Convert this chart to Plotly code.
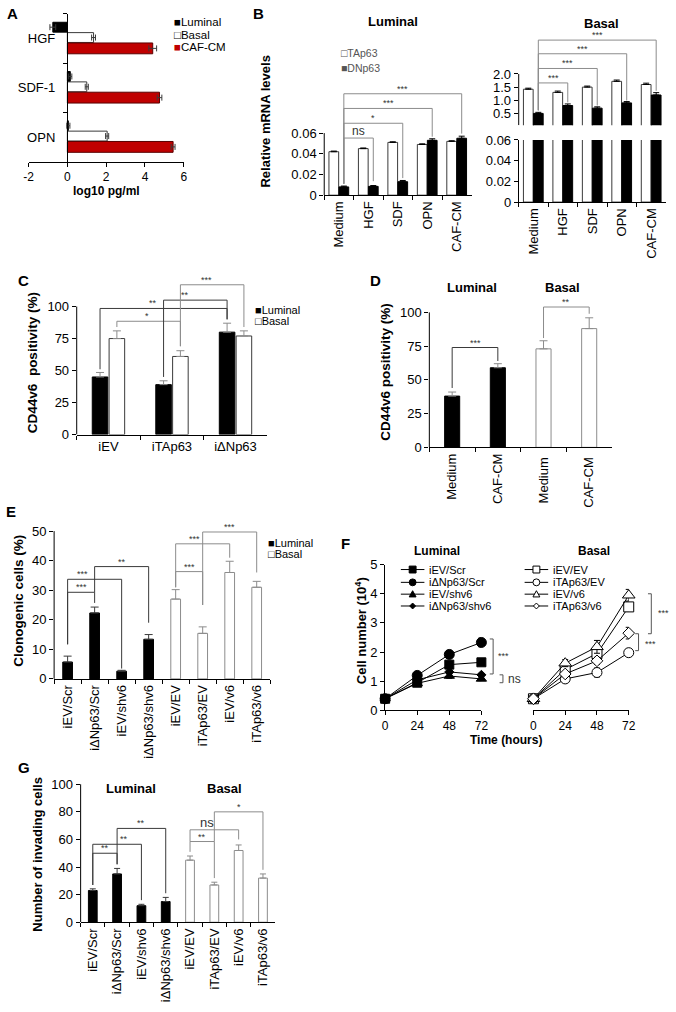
import plotly.graph_objects as go

W, H = 676, 1012
FONT = "Liberation Sans, Arial, Helvetica, sans-serif"
RED = "#c00000"
GREY = "#8c8c8c"
DARK = "#3a3a3a"

# ---------------- Panel A ----------------
A_factors = ["HGF", "SDF-1", "OPN"]
A_luminal = [-0.75, 0.15, 0.05]
A_luminal_err = [0.15, 0.08, 0.08]
A_basal = [1.35, 1.0, 2.05]
A_basal_err = [0.1, 0.08, 0.08]
A_cafcm = [4.4, 4.75, 5.45]
A_cafcm_err = [0.2, 0.12, 0.1]
A_xticks = [-2, 0, 2, 4, 6]
A_xticktext = ["-2", "0", "2", "4", "6"]

# ---------------- Panel B ----------------
B_treatments = ["Medium", "HGF", "SDF", "OPN", "CAF-CM"]
B_lum_TAp63 = [0.042, 0.045, 0.051, 0.049, 0.052]
B_lum_TAp63_err = [0.0006, 0.0006, 0.0006, 0.0006, 0.0006]
B_lum_DNp63 = [0.008, 0.0085, 0.013, 0.053, 0.055]
B_lum_DNp63_err = [0.0008, 0.0008, 0.0012, 0.0015, 0.002]
B_bas_TAp63 = [1.42, 1.30, 1.50, 1.72, 1.60]
B_bas_TAp63_err = [0.04, 0.05, 0.04, 0.05, 0.05]
B_bas_DNp63 = [0.50, 0.80, 0.70, 0.90, 1.20]
B_bas_DNp63_err = [0.04, 0.06, 0.05, 0.05, 0.09]
B_low_ticks = [0, 0.02, 0.04, 0.06]
B_low_ticktext = ["0", "0.02", "0.04", "0.06"]
B_up_ticks = [0.5, 1.0, 1.5, 2.0]
B_up_ticktext = ["0.5", "1.0", "1.5", "2.0"]

# ---------------- Panel C ----------------
C_constructs = ["iEV", "iTAp63", "iΔNp63"]
C_luminal = [45, 39, 80]
C_luminal_err = [3.5, 3, 7]
C_basal = [75, 61, 77]
C_basal_err = [6, 4.5, 4]
C_ticks = [0, 25, 50, 75, 100]

# ---------------- Panel D ----------------
D_luminal_groups = ["Medium", "CAF-CM"]
D_basal_groups = ["Medium ", "CAF-CM "]
D_luminal = [38, 59]
D_luminal_err = [3, 3]
D_basal = [73, 88]
D_basal_err = [6, 8]
D_ticks = [0, 25, 50, 75, 100]

# ---------------- Panel E ----------------
E_luminal_groups = ["iEV/Scr", "iΔNp63/Scr", "iEV/shv6", "iΔNp63/shv6"]
E_basal_groups = ["iEV/EV", "iTAp63/EV", "iEV/v6", "iTAp63/v6"]
E_luminal = [5.7, 22.3, 2.6, 13.4]
E_luminal_err = [2.0, 2.0, 0.3, 1.6]
E_basal = [27.0, 15.4, 36.0, 31.0]
E_basal_err = [3.2, 2.2, 3.8, 2.0]
E_ticks = [0, 10, 20, 30, 40, 50]

# ---------------- Panel F ----------------
F_hours = [0, 24, 48, 72]
F_lum_names = ["iEV/Scr", "iΔNp63/Scr", "iEV/shv6", "iΔNp63/shv6"]
F_lum_iEV_Scr = [0.4, 0.95, 1.57, 1.65]
F_lum_iEV_Scr_err = [0.03, 0.05, 0.10, 0.05]
F_lum_iDNp63_Scr = [0.4, 1.20, 1.92, 2.33]
F_lum_iDNp63_Scr_err = [0.03, 0.05, 0.12, 0.15]
F_lum_iEV_shv6 = [0.4, 0.93, 1.18, 1.08]
F_lum_iEV_shv6_err = [0.03, 0.05, 0.08, 0.06]
F_lum_iDNp63_shv6 = [0.4, 1.05, 1.32, 1.22]
F_lum_iDNp63_shv6_err = [0.03, 0.05, 0.06, 0.05]
F_bas_names = ["iEV/EV", "iTAp63/EV", "iEV/v6", "iTAp63/v6"]
F_bas_iEV_EV = [0.4, 1.40, 1.95, 3.55]
F_bas_iEV_EV_err = [0.03, 0.10, 0.20, 0.15]
F_bas_iTAp63_EV = [0.4, 1.08, 1.30, 1.98]
F_bas_iTAp63_EV_err = [0.03, 0.10, 0.15, 0.12]
F_bas_iEV_v6 = [0.4, 1.62, 2.18, 3.95]
F_bas_iEV_v6_err = [0.03, 0.12, 0.22, 0.20]
F_bas_iTAp63_v6 = [0.4, 1.25, 1.70, 2.65]
F_bas_iTAp63_v6_err = [0.03, 0.08, 0.12, 0.20]
F_yticks = [0, 1, 2, 3, 4, 5]

# ---------------- Panel G ----------------
G_luminal = [23, 35, 12, 15]
G_luminal_err = [1.2, 4, 1, 3]
G_basal = [45, 27, 52, 32]
G_basal_err = [3, 2, 4, 3]
G_ticks = [0, 20, 40, 60, 80, 100]

E_groups = E_luminal_groups + E_basal_groups

fig = go.Figure()


def xdom(a, b):
    return [a / W, b / W]


def ydom(top, bottom):
    return [1 - bottom / H, 1 - top / H]


def tf(size=13):
    return dict(family=FONT, size=size, color="black")


def err(arr, color="black", width=3, up_only=True):
    d = dict(type="data", array=arr, color=color, thickness=1, width=width, visible=True)
    if up_only:
        d["symmetric"] = False
        d["arrayminus"] = [0 for _ in arr]
    return d


def bar(x, y, ax, fill, outline, e, ecol, width, offset, ew=3):
    fig.add_trace(go.Bar(
        x=x, y=y, xaxis="x" + ax, yaxis="y" + ax, width=width, offset=offset,
        marker=dict(color=fill, line=dict(color=outline, width=1)),
        error_y=err(e, ecol, ew), showlegend=False, hoverinfo="skip"))


# ---- A traces (horizontal) ----
for vals, e, fill, outline, w, off in [
    (A_luminal, A_luminal_err, "black", "black", 0.2, -0.33),
    (A_basal, A_basal_err, "white", DARK, 0.2, -0.12),
    (A_cafcm, A_cafcm_err, RED, "#5a0000", 0.22, 0.09),
]:
    fig.add_trace(go.Bar(
        y=A_factors, x=vals, orientation="h", xaxis="x", yaxis="y", width=w, offset=off,
        marker=dict(color=fill, line=dict(color=outline, width=1)),
        error_x=dict(type="data", array=e, color=DARK, thickness=1, width=3),
        showlegend=False, hoverinfo="skip"))

# ---- B traces ----
bar(B_treatments, B_lum_TAp63, "2", "white", DARK, B_lum_TAp63_err, "black", 0.33, -0.34)
bar(B_treatments, B_lum_DNp63, "2", "black", "black", B_lum_DNp63_err, "black", 0.33, 0.0)
bar(B_treatments, B_bas_TAp63, "3", "white", DARK, B_bas_TAp63_err, "black", 0.33, -0.34)
bar(B_treatments, B_bas_DNp63, "3", "black", "black", B_bas_DNp63_err, "black", 0.33, 0.0)
bar(B_treatments, B_bas_TAp63, "4", "white", DARK, B_bas_TAp63_err, "black", 0.33, -0.34)
bar(B_treatments, B_bas_DNp63, "4", "black", "black", B_bas_DNp63_err, "black", 0.33, 0.0)

# ---- C traces ----
bar(C_constructs, C_luminal, "5", "black", "black", C_luminal_err, GREY, 0.245, -0.255, 4)
bar(C_constructs, C_basal, "5", "white", DARK, C_basal_err, GREY, 0.245, 0.01, 4)

# ---- D traces ----
bar(D_luminal_groups, D_luminal, "6", "black", "black", D_luminal_err, GREY, 0.33, -0.165, 4)
bar(D_basal_groups, D_basal, "6", "white", GREY, D_basal_err, GREY, 0.33, -0.165, 4)

# ---- E traces ----
bar(E_luminal_groups, E_luminal, "7", "black", "black", E_luminal_err, DARK, 0.36, -0.18, 4)
bar(E_basal_groups, E_basal, "7", "white", GREY, E_basal_err, GREY, 0.36, -0.18, 4)

# ---- G traces ----
bar(E_luminal_groups, G_luminal, "10", "black", "black", G_luminal_err, DARK, 0.36, -0.18, 3)
bar(E_basal_groups, G_basal, "10", "white", GREY, G_basal_err, GREY, 0.36, -0.18, 3)

# ---- F traces ----
F_lum_series = [
    (F_lum_iEV_Scr, F_lum_iEV_Scr_err, "square", 9, "black"),
    (F_lum_iDNp63_Scr, F_lum_iDNp63_Scr_err, "circle", 10, "black"),
    (F_lum_iEV_shv6, F_lum_iEV_shv6_err, "triangle-up", 9, "black"),
    (F_lum_iDNp63_shv6, F_lum_iDNp63_shv6_err, "diamond", 7, "black"),
]
F_bas_series = [
    (F_bas_iEV_EV, F_bas_iEV_EV_err, "square", 10, "white"),
    (F_bas_iTAp63_EV, F_bas_iTAp63_EV_err, "circle", 10, "white"),
    (F_bas_iEV_v6, F_bas_iEV_v6_err, "triangle-up", 11, "white"),
    (F_bas_iTAp63_v6, F_bas_iTAp63_v6_err, "diamond", 9, "white"),
]
for ax, series in [("8", F_lum_series), ("9", F_bas_series)]:
    for vals, e, sym, size, fill in series:
        fig.add_trace(go.Scatter(
            x=F_hours, y=vals, xaxis="x" + ax, yaxis="y" + ax, mode="lines+markers",
            line=dict(color="black", width=1),
            marker=dict(symbol=sym, size=size, color=fill, line=dict(color="black", width=1)),
            error_y=dict(type="data", array=e, color="black", thickness=1, width=3),
            cliponaxis=False, showlegend=False, hoverinfo="skip"))


# ---------------- axes ----------------
def cat_x(domain, anchor, cats, angle=-90, size=13, show=True):
    return dict(domain=domain, anchor=anchor, type="category", categoryorder="array",
                categoryarray=cats, range=[-0.5, len(cats) - 0.5],
                showline=show, linecolor="black", linewidth=1,
                ticks="outside" if show else "", tickson="boundaries", ticklen=4,
                tickcolor="black", showticklabels=show, tickangle=angle,
                tickfont=tf(size), showgrid=False, zeroline=False)


def val_ax(domain, anchor, rng, tickvals, ticktext=None, size=13, showline=False):
    d = dict(domain=domain, anchor=anchor, range=rng, tickmode="array", tickvals=tickvals,
             ticks="outside", ticklen=4, tickcolor="black", showline=showline,
             linecolor="black", linewidth=1, showgrid=False, zeroline=False, tickfont=tf(size))
    if ticktext is not None:
        d["ticktext"] = ticktext
    return d


layout = dict(
    width=W, height=H, margin=dict(l=0, r=0, t=0, b=0),
    paper_bgcolor="white", plot_bgcolor="white", showlegend=False, barmode="overlay",
    font=dict(family=FONT, color="black"),
    # A
    xaxis=val_ax(xdom(24, 182), "y", [-2, 6], A_xticks, A_xticktext, 12, True),
    yaxis=dict(domain=ydom(7, 157), anchor="free", position=63 / W, type="category",
               categoryorder="array", categoryarray=A_factors, range=[2.5, -0.5],
               showline=True, linecolor="black", linewidth=1, ticks="outside",
               tickson="boundaries", ticklen=4, tickcolor="black", ticklabelstandoff=9,
               tickfont=tf(13), showgrid=False, zeroline=False),
    # B luminal
    xaxis2=cat_x(xdom(325, 475), "y2", B_treatments),
    yaxis2=val_ax(ydom(70, 191), "x2", [0, 0.1152], B_low_ticks, B_low_ticktext),
    # B basal upper
    xaxis3=cat_x(xdom(523, 673), "y3", B_treatments, show=False),
    yaxis3=val_ax(ydom(20, 120), "x3", [0.05, 3.8], B_up_ticks, B_up_ticktext),
    # B basal lower
    xaxis4=cat_x(xdom(523, 673), "y4", B_treatments),
    yaxis4=val_ax(ydom(135, 198), "x4", [0, 0.06], B_low_ticks, B_low_ticktext, showline=True),
    # C
    xaxis5=cat_x(xdom(73, 267), "y5", C_constructs, angle=0),
    yaxis5=val_ax(ydom(270, 434), "x5", [0, 126.2], C_ticks),
    # D
    xaxis6=cat_x(xdom(432, 618), "y6", D_luminal_groups + D_basal_groups),
    yaxis6=val_ax(ydom(290, 447), "x6", [0, 114.6], D_ticks),
    # E
    xaxis7=cat_x(xdom(50, 270), "y7", E_groups),
    yaxis7=val_ax(ydom(525, 682), "x7", [0, 52.33], E_ticks),
    # F luminal / basal
    xaxis8=val_ax(xdom(387, 485), "y8", [0, 72], F_hours, size=12, showline=True),
    yaxis8=val_ax(ydom(566, 714), "x8", [0, 5], F_yticks, showline=True),
    xaxis9=val_ax(xdom(538, 635), "y9", [0, 72], F_hours, size=12, showline=True),
    yaxis9=dict(domain=ydom(566, 714), anchor="x9", range=[0, 5], visible=False),
    # G
    xaxis10=cat_x(xdom(77, 275), "y10", E_groups),
    yaxis10=val_ax(ydom(780, 929), "x10", [0, 106.4], G_ticks),
)
fig.update_layout(**layout)


# ---------------- helpers for lines / text ----------------
def yline(ax, y0, y1):
    fig.add_shape(type="line", xref="x" + ax + " domain", yref="y" + ax, x0=0, x1=0,
                  y0=y0, y1=y1, line=dict(color="black", width=1))


yline("2", 0, 0.06)
yline("3", 0.05, 2.0)
yline("5", 0, 100)
yline("6", 0, 100)
yline("7", 0, 50)
yline("10", 0, 100)


def bracket(ax, x0, x1, ytop, yb0, yb1, color, label, lx=None, size=9):
    xr, yr = "x" + ax, "y" + ax
    for a, b, c, d in [(x0, yb0, x0, ytop), (x0, ytop, x1, ytop), (x1, ytop, x1, yb1)]:
        fig.add_shape(type="line", xref=xr, yref=yr, x0=a, y0=b, x1=c, y1=d,
                      line=dict(color=color, width=1))
    fig.add_annotation(xref=xr, yref=yr, x=(x0 + x1) / 2 if lx is None else lx, y=ytop,
                       text=label, showarrow=False, xanchor="center", yanchor="bottom",
                       yshift=-2, font=dict(family=FONT, size=size, color="#333333"))


def txt(x, y, s, size=13, bold=False, angle=0, xanchor="center", yanchor="middle", color="black"):
    fig.add_annotation(xref="paper", yref="paper", x=x / W, y=1 - y / H,
                       text="<b>%s</b>" % s if bold else s, showarrow=False, textangle=angle,
                       xanchor=xanchor, yanchor=yanchor,
                       font=dict(family=FONT, size=size, color=color))


# B brackets
bracket("2", 0.165, 1.165, 0.0552, 0.011, 0.0135, GREY, "ns", size=12)
bracket("2", 0.165, 2.165, 0.0695, 0.011, 0.0165, GREY, "*")
bracket("2", 0.165, 3.165, 0.0838, 0.011, 0.0565, GREY, "***")
bracket("2", 0.165, 4.165, 0.098, 0.011, 0.0595, GREY, "***")
bracket("3", 0.165, 1.165, 1.66, 0.62, 0.92, GREY, "***")
bracket("3", 0.165, 2.165, 2.21, 0.62, 0.80, GREY, "***")
bracket("3", 0.165, 3.165, 2.77, 0.62, 0.99, GREY, "***")
bracket("3", 0.165, 4.165, 3.29, 0.62, 1.36, GREY, "***")

# C brackets
bracket("5", 0.1325, 1.1325, 88.5, 84, 69, GREY, "*", lx=0.6)
bracket("5", -0.1325, 1.8675, 98.5, 51, 90, DARK, "**", lx=0.7)
bracket("5", 0.8675, 1.8675, 105, 45, 90, DARK, "**", lx=1.2)
bracket("5", 1.1325, 2.1325, 117, 69, 84, GREY, "***", lx=1.55)

# D brackets
bracket("6", 0, 1, 74, 44, 64, DARK, "***")
bracket("6", 2, 3, 104, 81, 99, GREY, "**")

# E brackets
bracket("7", 0, 1, 29.3, 11.7, 25.7, DARK, "***")
bracket("7", 0, 2, 33.7, 11.7, 3.5, DARK, "***", lx=0.55)
bracket("7", 1, 3, 38, 29.3, 19, DARK, "**")
bracket("7", 4, 5, 36.3, 31, 25, GREY, "***")
bracket("7", 4, 6, 45.7, 31, 41, GREY, "***", lx=4.7)
bracket("7", 5, 7, 49.7, 25, 36, GREY, "***")

# G brackets
bracket("10", 0, 1, 50, 27, 42, DARK, "**")
bracket("10", 0, 2, 56.5, 27, 16, DARK, "**", lx=1.3)
bracket("10", 1, 3, 68, 42, 21, DARK, "**")
bracket("10", 4, 5, 58.5, 51, 32, GREY, "**")
bracket("10", 4, 6, 67, 58.5, 60, GREY, "ns", lx=4.7, size=13)
bracket("10", 5, 7, 80, 58.5, 38, GREY, "*")


# F side brackets
def side_bracket(ax, xd, y0, y1, label, lx, ly, size=9):
    xr, yr = "x" + ax + " domain", "y" + ax
    for a, b, c, d in [(xd - 0.035, y0, xd, y0), (xd, y0, xd, y1), (xd - 0.035, y1, xd, y1)]:
        fig.add_shape(type="line", xref=xr, yref=yr, x0=a, y0=b, x1=c, y1=d,
                      line=dict(color="#555555", width=1))
    fig.add_annotation(xref=xr, yref=yr, x=lx, y=ly, text=label, showarrow=False,
                       xanchor="left", yanchor="middle", font=dict(family=FONT, size=size, color="#333333"))


side_bracket("8", 1.122, 2.45, 1.25, "***", 1.15, 1.85)
side_bracket("8", 1.224, 1.22, 0.95, "ns", 1.255, 1.08, size=12)
side_bracket("9", 1.237, 4.0, 2.63, "***", 1.29, 3.33)
side_bracket("9", 1.103, 2.63, 2.05, "***", 1.155, 2.29)


# F legends (drawn)
def legend_marker(cx, cy, sym, fill, r):
    X = lambda px: px / W
    Y = lambda py: 1 - py / H
    common = dict(xref="paper", yref="paper", fillcolor=fill, line=dict(color="black", width=1))
    if sym == "square":
        fig.add_shape(type="rect", x0=X(cx - r), x1=X(cx + r), y0=Y(cy + r), y1=Y(cy - r), **common)
    elif sym == "circle":
        fig.add_shape(type="circle", x0=X(cx - r), x1=X(cx + r), y0=Y(cy + r), y1=Y(cy - r), **common)
    elif sym == "triangle-up":
        p = "M %f,%f L %f,%f L %f,%f Z" % (X(cx - r), Y(cy + r * 0.8), X(cx + r), Y(cy + r * 0.8), X(cx), Y(cy - r))
        fig.add_shape(type="path", path=p, **common)
    else:
        p = "M %f,%f L %f,%f L %f,%f L %f,%f Z" % (X(cx - r), Y(cy), X(cx), Y(cy - r), X(cx + r), Y(cy), X(cx), Y(cy + r))
        fig.add_shape(type="path", path=p, **common)


legend_rows = [571, 584, 596, 608]
for (lx0, lx1, tx, names, series) in [(403, 427, 430, F_lum_names, F_lum_series),
                                      (529, 553, 556, F_bas_names, F_bas_series)]:
    for yy, name, (vals, e, sym, size, fill) in zip(legend_rows, names, series):
        fig.add_shape(type="line", xref="paper", yref="paper", x0=lx0 / W, x1=lx1 / W,
                      y0=1 - yy / H, y1=1 - yy / H, line=dict(color="black", width=1))
        legend_marker((lx0 + lx1) / 2, yy, sym, fill, 3.5 if sym != "diamond" else 3)
        txt(tx, yy, name, size=11, xanchor="left")

# Panel letters
for letter, x, y in [("A", 8, 7), ("B", 258, 7), ("C", 19, 278), ("D", 377, 278),
                     ("E", 6, 512), ("F", 347, 545), ("G", 19, 772)]:
    txt(x, y, letter, size=15, bold=True)

# Titles
txt(395, 15, "Luminal", 13, True)
txt(607, 17, "Basal", 13, True)
txt(475, 285, "Luminal", 13, True)
txt(568, 285, "Basal", 13, True)
txt(440, 552, "Luminal", 12, True)
txt(600, 552, "Basal", 12, True)
txt(128, 793, "Luminal", 13, True)
txt(223, 793, "Basal", 13, True)

# Axis titles
txt(103, 187, "log10 pg/ml", 12, True)
txt(265, 116, "Relative mRNA levels", 13, True, angle=-90)
txt(28, 361, "CD44v6  positivity (%)", 13.5, True, angle=-90)
txt(387, 371, "CD44v6 positivity (%)", 13.5, True, angle=-90)
txt(13, 603, "Clonogenic cells (%)", 13.5, True, angle=-90)
txt(362, 633, "Cell number (10<sup>4</sup>)", 13, True, angle=-90)
txt(510, 744, "Time (hours)", 12, True)
txt(33, 860, "Number of invading cells", 13, True, angle=-90)

# Legends (bar panels)
txt(170, 15, "■Luminal", 11.5, xanchor="left")
txt(170, 28, "□Basal", 11.5, xanchor="left")
txt(170, 41, '<span style="color:%s">■</span>CAF-CM' % RED, 11.5, xanchor="left")
txt(340, 47, "□TAp63", 10.5, xanchor="left", color="#555555")
txt(340, 62, "■DNp63", 10.5, xanchor="left", color="#555555")
txt(252, 308, "■Luminal", 11, xanchor="left")
txt(252, 319, "□Basal", 11, xanchor="left")
txt(266, 544, "■Luminal", 11, xanchor="left")
txt(266, 555, "□Basal", 11, xanchor="left")

fig.write_html("out.html",
               config={"displayModeBar": False, "staticPlot": True},
               post_script="document.body.style.margin='0';document.body.style.overflow='hidden';")
